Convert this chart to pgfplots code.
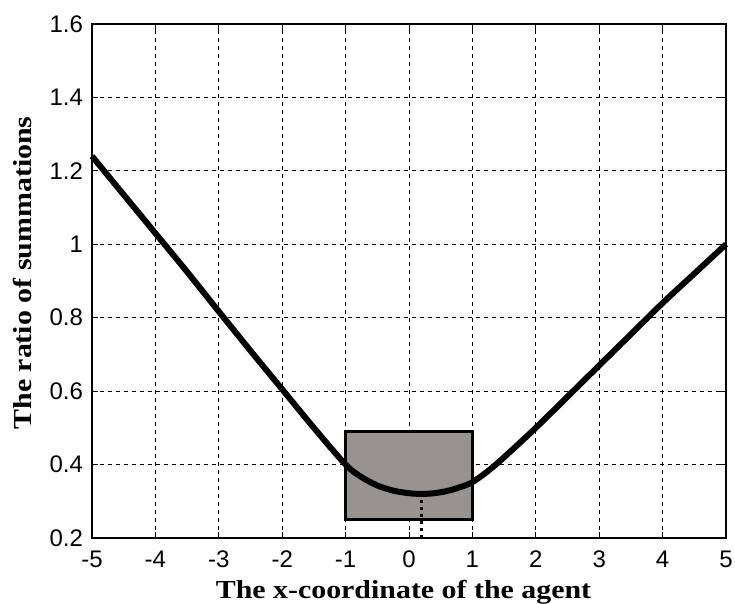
\documentclass[border=0pt]{standalone}
\usepackage{pgfplots}
\pgfplotsset{compat=1.18}
\usepackage{fontspec}
\setmainfont{Liberation Serif}
\newfontfamily\labfont[FakeStretch=1.15]{Liberation Serif}
\newfontfamily\arial{Liberation Sans}
\definecolor{boxgray}{RGB}{152,147,145}
\begin{document}
\begin{tikzpicture}
\path[use as bounding box] (-46pt,-33pt) rectangle (321.5pt,269pt);
\begin{axis}[
  at={(0,0)}, anchor=south west,
  scale only axis, width=317pt, height=257pt,
  xmin=-5, xmax=5, ymin=0.2, ymax=1.6,
  xtick={-5,-4,...,5}, ytick={0.2,0.4,...,1.6},
  yticklabel style={/pgf/number format/fixed,/pgf/number format/precision=1},
  /pgf/number format/assume math mode=true,
  ticklabel style={font=\arial\fontsize{12}{14}\selectfont, text=black},
  xticklabel style={anchor=base, yshift=-15pt},
  yticklabel style={xshift=-1pt},
  tick align=inside, major tick length=3pt,
  tick style={black, line width=0.5pt},
  axis line style={line width=0.7pt},
  grid=major, major grid style={black, dash pattern=on 2pt off 2pt, line width=0.5pt},
  xlabel={\bfseries The x-coordinate of the agent},
  ylabel={\bfseries The ratio of summations},
  label style={font=\labfont\bfseries\fontsize{13}{15}\selectfont},
  xlabel style={at={(rel axis cs:0.5,0)}, anchor=base, yshift=-30.5pt, xshift=-2.75pt},
  ylabel style={at={(rel axis cs:0,0.5)}, anchor=base, yshift=30pt, xshift=4pt},
  clip=false,
]
\addplot[fill=boxgray, draw=black, line width=1.5pt] coordinates {(-1,0.25) (1,0.25) (1,0.49) (-1,0.49) (-1,0.25)} -- cycle;
\addplot[black, line width=1.5pt, dotted] coordinates {(0.2,0.2) (0.2,0.32)};
\addplot[black, line width=3pt, smooth] coordinates {
(-5,1.24) (-4.5,1.135) (-4,1.03) (-3.5,0.925) (-3,0.817) (-2.5,0.71) (-2,0.605) (-1.5,0.5)
(-1,0.40) (-0.75,0.366) (-0.5,0.343) (-0.25,0.329) (0,0.322) (0.2,0.32) (0.4,0.322)
(0.6,0.328) (0.8,0.338) (1,0.352) (1.25,0.383) (1.5,0.42) (2,0.5) (2.5,0.585) (3,0.67)
(3.5,0.755) (4,0.84) (4.5,0.92) (5,1.0)};
\end{axis}
\end{tikzpicture}
\end{document}
